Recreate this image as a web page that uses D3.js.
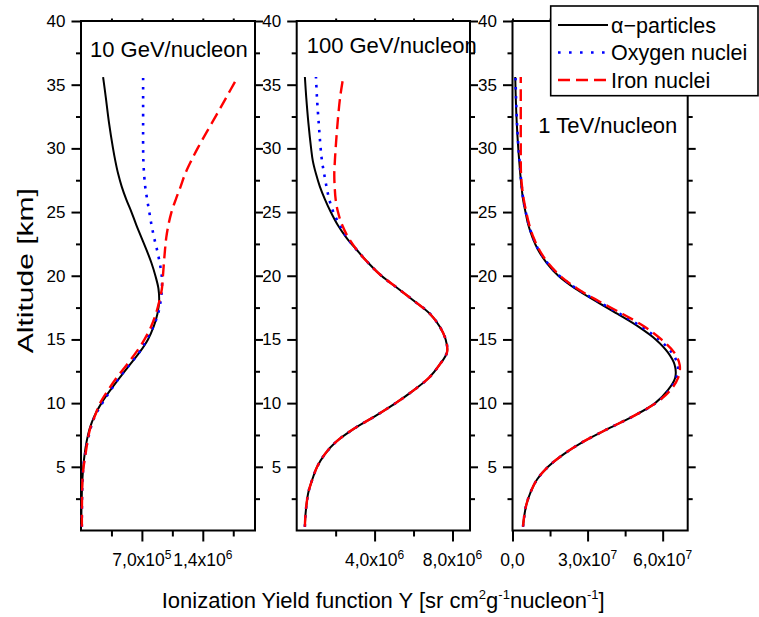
<!DOCTYPE html>
<html><head><meta charset="utf-8">
<script src="https://cdn.jsdelivr.net/npm/d3@7"></script>
<style>
body{margin:0;background:#fff;}
svg{display:block;}
</style></head><body>
<svg id="chart" width="759" height="617"></svg>
<script>
// ---------- DATA ----------
const altitudes = [0.3,1,2,3,4,5,6,7,8,9,10,11,12,13,14,15,16,17,18,19,20,21,22,23,24,25,26,27,28,29,30,32,34,35.6];
const seriesNames = ["\u03B1\u2212particles", "Oxygen nuclei", "Iron nuclei"];
const panelTitles = ["10 GeV/nucleon", "100 GeV/nucleon", "1 TeV/nucleon"];
const panelUnits = [1e5, 1e6, 1e7];

// 10 GeV/nucleon (values in units of 1e5)
const alpha10GeV  = [0.03,0.04,0.06,0.1,0.16,0.26,0.42,0.65,1.0,1.55,2.35,3.35,4.45,5.6,6.75,7.7,8.35,8.78,8.98,8.9,8.55,8.1,7.55,6.95,6.35,5.8,5.2,4.68,4.27,3.95,3.68,3.22,2.85,2.54];
const oxygen10GeV = [0.1,0.1,0.11,0.13,0.18,0.27,0.48,0.75,1.1,1.6,2.45,3.4,4.4,5.55,6.7,7.55,8.3,8.85,9.15,9.3,9.28,9.05,8.75,8.4,8.1,7.85,7.6,7.38,7.25,7.17,7.14,7.14,7.14,7.14];
const iron10GeV   = [0.1,0.1,0.11,0.13,0.17,0.3,0.52,0.75,1.05,1.6,2.2,3.1,4.1,5.25,6.35,7.3,8.05,8.6,9.0,9.3,9.42,9.53,9.65,9.8,10.05,10.4,10.9,11.45,11.97,12.65,13.4,15.05,16.7,18.0];

// 100 GeV/nucleon (values in units of 1e6)
const alpha100GeV  = [0.42,0.44,0.5,0.6,0.8,1.05,1.45,2.05,2.95,4.05,5.08,6.0,6.8,7.33,7.72,7.65,7.35,6.85,6.05,5.2,4.35,3.68,3.1,2.55,2.1,1.75,1.45,1.19,0.99,0.83,0.74,0.6,0.49,0.42];
const oxygen100GeV = [0.42,0.44,0.5,0.6,0.8,1.05,1.45,2.05,2.95,4.05,5.08,6.0,6.8,7.33,7.72,7.65,7.35,6.85,6.05,5.2,4.35,3.68,3.1,2.58,2.2,1.88,1.67,1.53,1.41,1.3,1.23,1.13,1.04,0.99];
const iron100GeV   = [0.42,0.44,0.5,0.6,0.8,1.05,1.45,2.05,2.95,4.05,5.08,6.0,6.8,7.33,7.72,7.65,7.35,6.85,6.05,5.2,4.35,3.68,3.1,2.65,2.33,2.12,2.0,1.95,1.93,1.96,2.0,2.1,2.23,2.39];

// 1 TeV/nucleon (values in units of 1e7)
const alpha1TeV  = [0.42,0.46,0.55,0.72,0.98,1.42,2.05,2.85,3.83,4.85,5.7,6.2,6.5,6.48,6.2,5.72,5.03,4.2,3.33,2.5,1.83,1.37,1.03,0.8,0.63,0.52,0.42,0.36,0.31,0.27,0.23,0.17,0.13,0.11];
const oxygen1TeV = [0.42,0.46,0.55,0.72,0.98,1.42,2.05,2.85,3.83,4.85,5.72,6.25,6.55,6.6,6.35,5.85,5.15,4.3,3.4,2.55,1.87,1.4,1.05,0.82,0.65,0.53,0.43,0.37,0.32,0.28,0.24,0.18,0.14,0.12];
const iron1TeV   = [0.42,0.46,0.55,0.72,0.98,1.42,2.05,2.85,3.83,4.85,5.72,6.3,6.62,6.68,6.45,5.95,5.28,4.4,3.45,2.58,1.9,1.42,1.08,0.84,0.67,0.55,0.45,0.38,0.34,0.33,0.33,0.33,0.33,0.33];

// axis ticks
const yMajorTicks = [5,10,15,20,25,30,35,40];
const yMinorTicks = [2.5,7.5,12.5,17.5,22.5,27.5,32.5,37.5];
const xMajorTicks10GeV = [7e5, 1.4e6];
const xMinorTicks10GeV = [3.5e5, 1.05e6, 1.75e6];
const xMajorTicks100GeV = [4e6, 8e6];
const xMinorTicks100GeV = [2e6, 6e6];
const xMajorTicks1TeV = [0, 3e7, 6e7];
const xMinorTicks1TeV = [1.5e7, 4.5e7];
const xDomains = [[0, 2.0e6], [0, 8.9e6], [0, 7.0e7]];
const xAxisTitle = ["Ionization Yield function Y [sr cm", "2", "g", "-1", "nucleon", "-1", "]"];
const yAxisTitle = "Altitude [km]";

// ---------- DRAWING ----------
const FONT = "'Liberation Sans', Arial, Helvetica, sans-serif";
const svg = d3.select("#chart").attr("font-family", FONT);
svg.append("rect").attr("width", 759).attr("height", 617).attr("fill", "#fff");

const y = d3.scaleLinear().domain([0, 40]).range([530.5, 21]);
const styles = [
  {stroke: "#000", width: 2, dash: null},
  {stroke: "#0000FF", width: 2.6, dash: "2.6,6.4"},
  {stroke: "#FF0000", width: 2.4, dash: "12,6"}
];

const panels = [
  {x0: 81, x1: 255, series: [alpha10GeV, oxygen10GeV, iron10GeV], major: xMajorTicks10GeV, minor: xMinorTicks10GeV, tx: 90, ty: 56.7},
  {x0: 296.7, x1: 470, series: [alpha100GeV, oxygen100GeV, iron100GeV], major: xMajorTicks100GeV, minor: xMinorTicks100GeV, tx: 306.7, ty: 53.3},
  {x0: 512.5, x1: 687.7, series: [alpha1TeV, oxygen1TeV, iron1TeV], major: xMajorTicks1TeV, minor: xMinorTicks1TeV, tx: 538.3, ty: 133.3}
];

function fmt(v) {
  if (v === 0) return {m: "0,0", e: null};
  const e = Math.floor(Math.log10(v) + 1e-9);
  const m = (v / Math.pow(10, e)).toFixed(1).replace(".", ",");
  return {m: m + "x10", e: String(e)};
}

function styleAxis(g, fs) {
  g.select(".domain").remove();
  g.selectAll("line").attr("stroke", "#000").attr("stroke-width", 2);
  g.selectAll("text").attr("font-size", fs).attr("font-family", FONT).attr("fill", "#000");
}

panels.forEach((p, i) => {
  const x = d3.scaleLinear().domain(xDomains[i]).range([p.x0, p.x1]);
  const g = svg.append("g");

  // left axis
  g.append("g").attr("transform", `translate(${p.x0},0)`)
    .call(d3.axisLeft(y).tickValues(yMajorTicks).tickSize(9.5).tickPadding(6).tickFormat(d3.format("d")))
    .call(a => styleAxis(a, 17));
  g.append("g").attr("transform", `translate(${p.x0},0)`)
    .call(d3.axisLeft(y).tickValues(yMinorTicks).tickSize(5).tickFormat(""))
    .call(a => styleAxis(a, 17));
  // right axis
  g.append("g").attr("transform", `translate(${p.x1},0)`)
    .call(d3.axisRight(y).tickValues(yMajorTicks).tickSize(8).tickFormat(""))
    .call(a => styleAxis(a, 17));
  g.append("g").attr("transform", `translate(${p.x1},0)`)
    .call(d3.axisRight(y).tickValues(yMinorTicks).tickSize(5).tickFormat(""))
    .call(a => styleAxis(a, 17));
  // bottom axis
  g.append("g").attr("transform", `translate(0,${y(0)})`)
    .call(d3.axisBottom(x).tickValues(p.major).tickSize(11).tickFormat(""))
    .call(a => styleAxis(a, 17));
  g.append("g").attr("transform", `translate(0,${y(0)})`)
    .call(d3.axisBottom(x).tickValues(p.minor).tickSize(6).tickFormat(""))
    .call(a => styleAxis(a, 17));
  // top axis
  g.append("g").attr("transform", `translate(0,${y(40)})`)
    .call(d3.axisTop(x).tickValues(p.major.concat(p.minor)).tickSize(2.5).tickFormat(""))
    .call(a => styleAxis(a, 17));

  // x tick labels with superscript
  p.major.forEach(v => {
    const f = fmt(v);
    const t = g.append("text").attr("x", x(v)).attr("y", 565.7)
      .attr("text-anchor", "middle").attr("font-size", 17.5).attr("fill", "#000");
    t.append("tspan").text(f.m);
    if (f.e) t.append("tspan").attr("font-size", 12).attr("dy", -7).text(f.e);
  });

  // frame
  g.append("rect").attr("x", p.x0).attr("y", y(40))
    .attr("width", p.x1 - p.x0).attr("height", y(0) - y(40))
    .attr("fill", "none").attr("stroke", "#000").attr("stroke-width", 2);

  // curves
  const line = d3.line()
    .x(d => x(d[0] * panelUnits[i]))
    .y(d => y(d[1]))
    .curve(d3.curveCatmullRom.alpha(0.5));
  p.series.forEach((vals, k) => {
    const pts = vals.map((v, j) => [v, altitudes[j]]);
    g.append("path").datum(pts).attr("d", line)
      .attr("fill", "none").attr("stroke", styles[k].stroke)
      .attr("stroke-width", styles[k].width)
      .attr("stroke-dasharray", styles[k].dash);
  });

  // panel title
  g.append("text").attr("x", p.tx).attr("y", p.ty).attr("font-size", 22)
    .attr("fill", "#000").text(panelTitles[i]);
});

// axis titles
const xt = svg.append("text").attr("x", 161.7).attr("y", 608.3).attr("font-size", 22).attr("fill", "#000");
xt.append("tspan").text(xAxisTitle[0]);
xt.append("tspan").attr("font-size", 13).attr("dy", -9).text(xAxisTitle[1]);
xt.append("tspan").attr("dy", 9).text(xAxisTitle[2]);
xt.append("tspan").attr("font-size", 13).attr("dy", -9).text(xAxisTitle[3]);
xt.append("tspan").attr("dy", 9).text(xAxisTitle[4]);
xt.append("tspan").attr("font-size", 13).attr("dy", -9).text(xAxisTitle[5]);
xt.append("tspan").attr("dy", 9).text(xAxisTitle[6]);

svg.append("text").attr("transform", "translate(33,270.7) rotate(-90)")
  .attr("text-anchor", "middle").attr("font-size", 22).attr("fill", "#000")
  .attr("textLength", 165).attr("lengthAdjust", "spacingAndGlyphs")
  .text(yAxisTitle);

// legend
const lg = svg.append("g");
lg.append("rect").attr("x", 550.7).attr("y", 6).attr("width", 207.3).attr("height", 89.7)
  .attr("fill", "#fff").attr("stroke", "#000").attr("stroke-width", 1.6);
const rowY = d3.scalePoint().domain(seriesNames).range([25, 80]);
seriesNames.forEach((name, k) => {
  lg.append("line").attr("x1", 558).attr("x2", 608).attr("y1", rowY(name)).attr("y2", rowY(name))
    .attr("stroke", styles[k].stroke).attr("stroke-width", styles[k].width)
    .attr("stroke-dasharray", k === 1 ? "2.6,8.4" : styles[k].dash);
  lg.append("text").attr("x", 611).attr("y", rowY(name) + 7.8).attr("font-size", 21.5)
    .attr("fill", "#000").text(name);
});
</script>
</body></html>
